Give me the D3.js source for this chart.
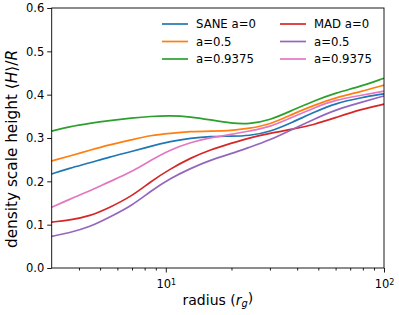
<!DOCTYPE html>
<html>
<head>
<meta charset="utf-8">
<script src="https://cdn.jsdelivr.net/npm/d3@7"></script>
<style>
    body { margin: 0; background: #fff; }
    svg text { font-family: 'DejaVu Sans', sans-serif; fill: #000; }
</style>
</head>
<body>
<div id="chart"></div>
<script>
// Radius samples (r_g) shared by all curves
const radius = [3, 3.6, 4.5, 5.5, 7, 8.5, 10.5, 13, 16, 20, 24, 30, 38, 48, 60, 78, 100];

// SANE runs
const saneA0 = [0.217, 0.23, 0.243, 0.256, 0.269, 0.281, 0.292, 0.3, 0.304, 0.304, 0.305, 0.314, 0.336, 0.36, 0.38, 0.393, 0.402];
const saneA05 = [0.247, 0.258, 0.272, 0.284, 0.296, 0.306, 0.311, 0.315, 0.316, 0.317, 0.322, 0.331, 0.355, 0.376, 0.393, 0.407, 0.422];
const saneA09 = [0.316, 0.326, 0.334, 0.34, 0.346, 0.35, 0.352, 0.349, 0.342, 0.334, 0.332, 0.341, 0.364, 0.386, 0.404, 0.419, 0.438];

// MAD runs
const madA0 = [0.106, 0.11, 0.12, 0.139, 0.166, 0.199, 0.229, 0.254, 0.273, 0.288, 0.3, 0.311, 0.32, 0.331, 0.347, 0.366, 0.378];
const madA05 = [0.073, 0.081, 0.095, 0.117, 0.144, 0.177, 0.207, 0.23, 0.249, 0.264, 0.278, 0.295, 0.32, 0.344, 0.365, 0.382, 0.397];
const madA09 = [0.14, 0.158, 0.178, 0.199, 0.222, 0.248, 0.273, 0.29, 0.301, 0.308, 0.316, 0.325, 0.348, 0.37, 0.388, 0.398, 0.408];

const seriesLabels = ['SANE a=0', 'a=0.5', 'a=0.9375', 'MAD a=0', 'a=0.5', 'a=0.9375'];
const seriesValues = [saneA0, saneA05, saneA09, madA0, madA05, madA09];
const colors = ['#1f77b4', '#ff7f0e', '#2ca02c', '#d62728', '#9467bd', '#e377c2'];

const yTicks = [0, 0.1, 0.2, 0.3, 0.4, 0.5, 0.6];
const xMajor = [10, 100];
const xMinor = [4, 5, 6, 7, 8, 9, 20, 30, 40, 50, 60, 70, 80, 90];

// Layout
const W = 399, H = 315;
const margin = { top: 8, right: 15, bottom: 47, left: 51.7 };
const x = d3.scaleLog().domain([3, 100]).range([margin.left, W - margin.right]);
const y = d3.scaleLinear().domain([0, 0.6]).range([H - margin.bottom, margin.top]);

const svg = d3.select('#chart').append('svg').attr('width', W).attr('height', H);

// Lines
const line = d3.line()
    .x((d, i) => x(radius[i]))
    .y((d) => y(d))
    .curve(d3.curveBasis);

svg.append('g')
    .selectAll('path')
    .data(seriesValues)
    .enter()
    .append('path')
    .attr('d', line)
    .attr('fill', 'none')
    .attr('stroke', (d, i) => colors[i])
    .attr('stroke-width', 1.7);

// Axes
const xAxis = svg.append('g')
    .attr('transform', 'translate(0,' + y(0) + ')')
    .call(d3.axisBottom(x).tickValues(xMajor).tickSize(4.5).tickPadding(3).tickFormat(() => ''));
xAxis.selectAll('.tick text').each(function (d) {
    const t = d3.select(this).attr('font-size', 11.5).attr('dy', '1.1em');
    t.append('tspan').text('10');
    t.append('tspan').attr('font-size', 8).attr('dy', '-0.45em').text(Math.round(Math.log10(d)));
});
svg.append('g')
    .attr('transform', 'translate(0,' + y(0) + ')')
    .call(d3.axisBottom(x).tickValues(xMinor).tickSize(2.5).tickFormat(() => ''));

svg.append('g')
    .attr('transform', 'translate(' + margin.left + ',0)')
    .call(d3.axisLeft(y).tickValues(yTicks).tickSize(4.5).tickPadding(3).tickFormat(d3.format('.1f')))
    .selectAll('text')
    .attr('font-size', 11.5);

svg.selectAll('.domain').remove();
svg.selectAll('.tick line').attr('stroke', '#000').attr('stroke-width', 0.9);

// Frame
svg.append('rect')
    .attr('x', margin.left)
    .attr('y', margin.top)
    .attr('width', W - margin.right - margin.left)
    .attr('height', H - margin.bottom - margin.top)
    .attr('fill', 'none')
    .attr('stroke', '#000')
    .attr('stroke-width', 0.9);

// Axis labels
const xLabel = svg.append('text')
    .attr('x', (margin.left + W - margin.right) / 2)
    .attr('y', 304.5)
    .attr('text-anchor', 'middle')
    .attr('font-size', 14);
xLabel.append('tspan').text('radius (');
xLabel.append('tspan').attr('font-style', 'italic').text('r');
xLabel.append('tspan').attr('font-style', 'italic').attr('font-size', 9.8).attr('dy', '0.3em').text('g');
xLabel.append('tspan').attr('dy', '-0.3em').text(')');

const yLabel = svg.append('text')
    .attr('transform', 'translate(17,149) rotate(-90)')
    .attr('text-anchor', 'middle')
    .attr('font-size', 15.3);
yLabel.append('tspan').text('density scale height ⟨');
yLabel.append('tspan').attr('font-style', 'italic').text('H');
yLabel.append('tspan').text('⟩/');
yLabel.append('tspan').attr('font-style', 'italic').text('R');

// Legend (two columns, no frame)
const legend = svg.append('g');
seriesLabels.forEach(function (label, i) {
    const col = Math.floor(i / 3), row = i % 3;
    const lx = col === 0 ? 162 : 280;
    const ly = 24 + row * 17.5;
    legend.append('line')
        .attr('x1', lx).attr('x2', lx + 26)
        .attr('y1', ly).attr('y2', ly)
        .attr('stroke', colors[i])
        .attr('stroke-width', 1.7);
    legend.append('text')
        .attr('x', lx + 34)
        .attr('y', ly)
        .attr('dy', '0.35em')
        .attr('font-size', 11.7)
        .text(label);
});
</script>
</body>
</html>
